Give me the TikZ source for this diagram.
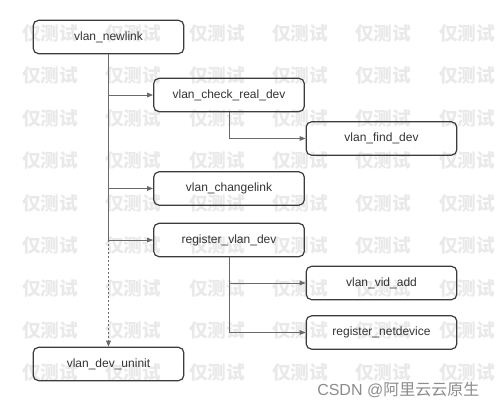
\documentclass[tikz,border=0pt]{standalone}
\usepackage{fontspec}
\usepackage{xcolor}
\usetikzlibrary{arrows.meta,positioning}
\setmainfont{Liberation Sans}
\newfontfamily\cjk{Noto Sans CJK SC}
\definecolor{boxline}{HTML}{3C3C3C}
\definecolor{linkline}{HTML}{6A6A6A}
\definecolor{marktext}{HTML}{E9E9E9}
\definecolor{srctext}{HTML}{8C8C8C}
\begin{document}
\begin{tikzpicture}
			[x=0.75pt,y=-0.75pt,
			funcbox/.style={draw=boxline,line width=0.9pt,rounded corners=4pt,minimum width=113pt,minimum height=25pt,inner sep=0pt,text=black!80,font=\fontsize{9}{11}\selectfont},
			link/.style={draw=linkline,line width=0.75pt},
			tip/.style={-{Triangle[length=4.5pt,width=3.5pt]}},
			watermark/.style={text=marktext,font=\cjk\bfseries\fontsize{14}{16}\selectfont}]
			\useasboundingbox (0,0) rectangle (499,407);
			\foreach \row in {33,75,118,160,203,245,288,330,372}
				\foreach \col in {50,133,217,300,383,467}
					\node[watermark] at (\col,\row) {仅测试};
			\node[funcbox] (newlink) at (108.5,37) {vlan\_newlink};
			\node[funcbox] (checkreal) at (229,95) {vlan\_check\_real\_dev};
			\node[funcbox] (finddev) at (381.5,138.5) {vlan\_find\_dev};
			\node[funcbox] (changelink) at (229,188.5) {vlan\_changelink};
			\node[funcbox] (registervlan) at (229,240) {register\_vlan\_dev};
			\node[funcbox] (vidadd) at (381.5,283) {vlan\_vid\_add};
			\node[funcbox] (netdevice) at (381.5,332.5) {register\_netdevice};
			\node[funcbox] (uninit) at (108.5,364) {vlan\_dev\_uninit};
			\node[anchor=east,text=srctext,font=\fontsize{12}{14}\selectfont] (source) at (484,390) {CSDN @{\cjk 阿里云云原生}};
			\draw[link] (newlink.south) -- (newlink.south |- registervlan.west);
			\draw[link,tip] (newlink.south |- checkreal.west) -- (checkreal.west);
			\draw[link,tip] (newlink.south |- changelink.west) -- (changelink.west);
			\draw[link,tip] (newlink.south |- registervlan.west) -- (registervlan.west);
			\draw[link,tip,dash pattern=on 1.5pt off 1.5pt] (newlink.south |- registervlan.west) -- (uninit.north);
			\draw[link,tip] (checkreal.south) |- (finddev.west);
			\draw[link,tip] (registervlan.south) |- (vidadd.west);
			\draw[link,tip] (registervlan.south) |- (netdevice.west);
		\end{tikzpicture}
\end{document}
